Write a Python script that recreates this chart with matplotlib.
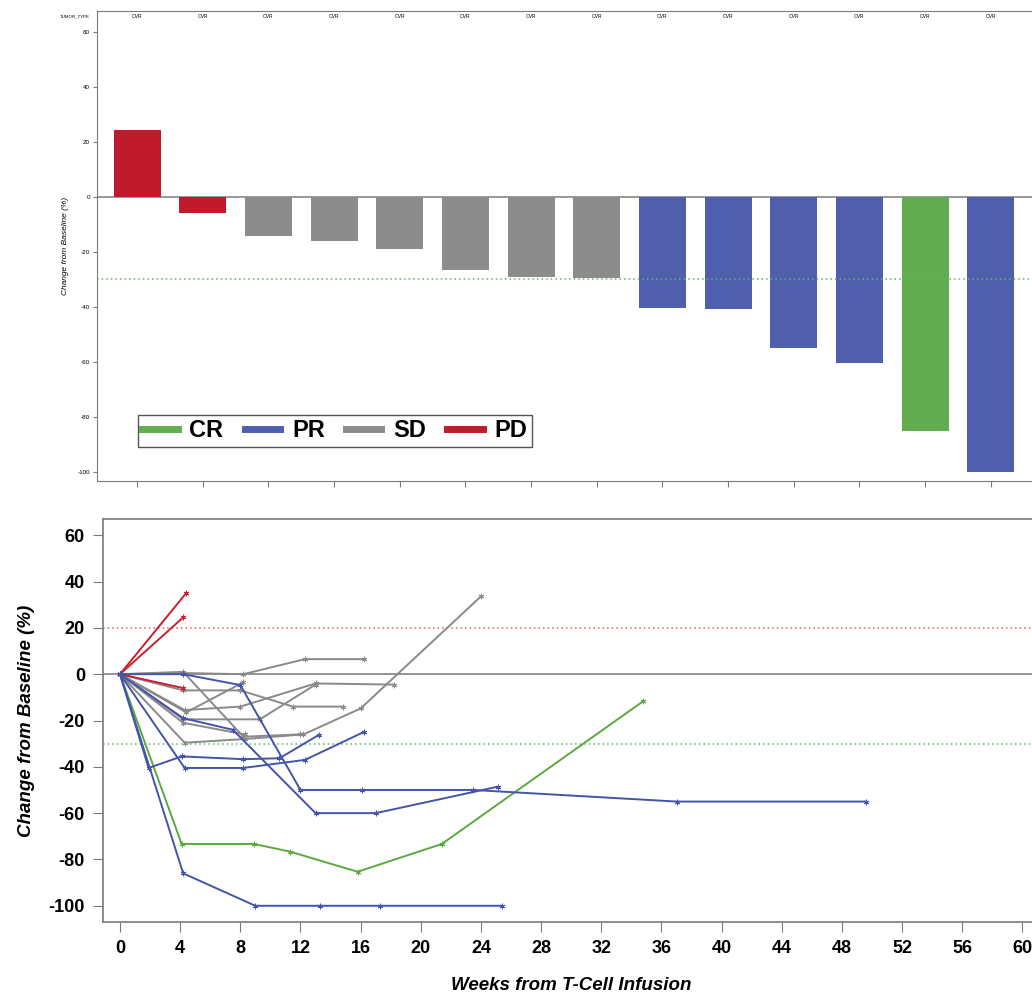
import matplotlib
matplotlib.use('Agg')
import matplotlib.pyplot as plt
from matplotlib.lines import Line2D

plt.rcParams['font.family'] = ['Liberation Sans', 'DejaVu Sans']
plt.rcParams['axes.unicode_minus'] = False

# waterfall data (best change from baseline, %)
bar_values = [24.5, -5.7, -14.2, -15.9, -18.9, -26.5, -29.0, -29.5,
              -40.5, -40.8, -55.0, -60.5, -85.3, -100.0]
bar_response = ['PD', 'PD', 'SD', 'SD', 'SD', 'SD', 'SD', 'SD',
                'PR', 'PR', 'PR', 'PR', 'CR', 'PR']
tumor_type = ['OVR'] * 14

# spider data: weeks from infusion / change from baseline (%)
pd1_wk, pd1_pct = [0, 4.4], [0, 35]
pd2_wk, pd2_pct = [0, 4.2], [0, 24.5]
pd3_wk, pd3_pct = [0, 4.2], [0, -6]

sd1_wk, sd1_pct = [0, 4.3, 8.3, 12.2, 16.0, 24.0], [0, -29.6, -28, -26, -14.8, 33.6]
sd2_wk, sd2_pct = [0, 4.2, 8.0, 11.5, 14.8], [0, -7, -7, -14, -14]
sd3_wk, sd3_pct = [0, 4.3, 8.0, 13.0, 18.2], [0, -15.5, -14, -4, -4.5]
sd4_wk, sd4_pct = [0, 4.4, 8.2], [0, -16.5, -3.5]
sd5_wk, sd5_pct = [0, 4.2, 8.2, 12.3, 16.2], [0, 0.5, 0, 6.5, 6.5]
sd6_wk, sd6_pct = [0, 4.2, 9.3, 13.0], [0, -19.5, -19.5, -4.5]
sd7_wk, sd7_pct = [0, 4.2, 8.3], [0, -21, -26]
sd8_wk, sd8_pct = [0, 4.2, 8.2, 12.0], [0, 1, -27, -26]

pr1_wk, pr1_pct = [0, 4.2, 9.0, 13.3, 17.3, 25.4], [0, -86, -100, -100, -100, -100]
pr2_wk, pr2_pct = [0, 4.2, 8.0, 12.0, 16.1, 23.5, 37.0, 49.6], [0, 0, -4.7, -50, -50, -50, -55, -55]
pr3_wk, pr3_pct = [0, 4.2, 7.5, 13.0, 17.0, 25.1], [0, -19, -24, -60, -60, -48.6]
pr4_wk, pr4_pct = [0, 1.9, 4.1, 8.2, 10.6, 13.2], [0, -40.5, -35.5, -36.7, -36.3, -26.3]
pr5_wk, pr5_pct = [0, 4.3, 8.2, 12.3, 16.2], [0, -40.5, -40.5, -37, -25]

cr1_wk, cr1_pct = [0, 4.1, 8.9, 11.3, 15.8, 21.4, 34.8], [0, -73.3, -73.3, -76.6, -85.3, -73.3, -11.6]

colors = {'CR': '#62ad4f', 'PR': '#4f5fae', 'SD': '#8c8c8c', 'PD': '#c01b2c'}
line_colors = {'CR': '#5aaa40', 'PR': '#4454aa', 'SD': '#8a8a8a', 'PD': '#c8202e'}

spider = [
    ('SD', sd1_wk, sd1_pct), ('SD', sd2_wk, sd2_pct), ('SD', sd3_wk, sd3_pct),
    ('SD', sd4_wk, sd4_pct), ('SD', sd5_wk, sd5_pct), ('SD', sd6_wk, sd6_pct),
    ('SD', sd7_wk, sd7_pct), ('SD', sd8_wk, sd8_pct),
    ('PD', pd1_wk, pd1_pct), ('PD', pd2_wk, pd2_pct), ('PD', pd3_wk, pd3_pct),
    ('CR', cr1_wk, cr1_pct),
    ('PR', pr1_wk, pr1_pct), ('PR', pr2_wk, pr2_pct), ('PR', pr3_wk, pr3_pct),
    ('PR', pr4_wk, pr4_pct), ('PR', pr5_wk, pr5_pct),
]

fig = plt.figure(figsize=(10.32, 9.92), dpi=100)
frame_col = '#7a7a7a'

# ---- top: waterfall (right edge runs off the picture, as in the original) ----
ax1 = fig.add_axes([97 / 1032, 511 / 992, 943 / 1032, 470 / 992])
xs = list(range(len(bar_values)))
ax1.bar(xs, bar_values, width=0.715, color=[colors[r] for r in bar_response])
ax1.axhline(0, color='#888888', lw=1.2, zorder=0)
ax1.axhline(-30, color='#5cb85c', lw=1.1, ls=(0, (1, 2)))
ax1.set_xlim(-0.61, 13.75)
ax1.set_ylim(-103.3, 67.6)
ax1.set_yticks([60, 40, 20, 0, -20, -40, -60, -80, -100])
ax1.set_xticks(xs)
ax1.set_xticklabels([])
ax1.tick_params(axis='y', labelsize=4.5, length=3, color=frame_col, pad=2)
ax1.tick_params(axis='x', length=4, color=frame_col)
for s in ax1.spines.values():
    s.set_color(frame_col)
ax1.set_ylabel('Change from Baseline (%)', fontsize=6, style='italic', labelpad=6)
for x, t in zip(xs, tumor_type):
    ax1.text(x, 0.993, t, transform=ax1.get_xaxis_transform(), ha='center', va='top', fontsize=3.5)
ax1.text(-0.024, 0.993, 'TUMOR_TYPE', transform=ax1.transAxes, ha='center', va='top', fontsize=3.2)

handles = [Line2D([0], [0], color=colors[k], lw=5) for k in ['CR', 'PR', 'SD', 'PD']]
leg = ax1.legend(handles, ['CR', 'PR', 'SD', 'PD'], ncol=4, loc='lower left',
                 bbox_to_anchor=(0.043, 0.072), borderaxespad=0, fancybox=False,
                 edgecolor='#555555', framealpha=1, handlelength=1.5, handletextpad=0.5,
                 columnspacing=0.9, borderpad=0.2,
                 prop={'weight': 'bold', 'size': 17})
leg.get_frame().set_linewidth(1.0)

# ---- bottom: spider ----
ax2 = fig.add_axes([103 / 1032, 70 / 992, 936 / 1032, 403 / 992])
ax2.axhline(0, color='#808080', lw=1.2, zorder=0)
ax2.axhline(20, color='#e06060', lw=1.1, ls=(0, (1, 2)))
ax2.axhline(-30, color='#5cb85c', lw=1.1, ls=(0, (1, 2)))
for resp, wk, pct in spider:
    ax2.plot(wk, pct, color=line_colors[resp], lw=1.4, marker=(6, 2, 0), ms=4, mew=0.7)

ax2.set_xlim(-1.13, 61.1)
ax2.set_ylim(-107, 67)
ax2.set_xticks(range(0, 61, 4))
ax2.set_yticks(range(-100, 61, 20))
ax2.tick_params(labelsize=13, length=7, color=frame_col, pad=6)
for lab in ax2.get_xticklabels() + ax2.get_yticklabels():
    lab.set_fontweight('bold')
for s in ax2.spines.values():
    s.set_color(frame_col)
    s.set_linewidth(1.2)
ax2.set_xlabel('Weeks from T-Cell Infusion', fontsize=13.5, style='italic', weight='bold', labelpad=14)
ax2.set_ylabel('Change from Baseline (%)', fontsize=13.5, style='italic', weight='bold', labelpad=10)

fig.savefig('out.png', dpi=100)
